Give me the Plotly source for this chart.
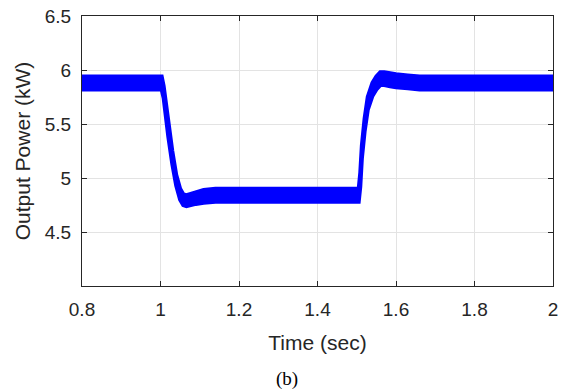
import plotly.graph_objects as go

# Envelope of the rippling output-power trace (kW)
time_s = [0.8, 1.003, 1.008, 1.013, 1.020, 1.030, 1.040, 1.050, 1.058, 1.066, 1.075,
          1.090, 1.110, 1.140, 1.200, 1.505, 1.509, 1.513, 1.520, 1.528, 1.540,
          1.550, 1.560, 1.570, 1.585, 1.600, 1.630, 1.660, 2.0]
power_upper = [5.94, 5.94, 5.85, 5.70, 5.50, 5.25, 5.03, 4.90, 4.85, 4.84, 4.85,
               4.87, 4.89, 4.90, 4.90, 4.90, 5.05, 5.30, 5.55, 5.75, 5.88,
               5.94, 5.98, 5.98, 5.97, 5.96, 5.95, 5.94, 5.94]
power_lower = [5.82, 5.82, 5.74, 5.58, 5.38, 5.13, 4.93, 4.80, 4.75, 4.74, 4.75,
               4.76, 4.77, 4.78, 4.78, 4.78, 4.92, 5.18, 5.43, 5.63, 5.76,
               5.82, 5.86, 5.86, 5.85, 5.84, 5.83, 5.82, 5.82]

x_ticks = [0.8, 1.0, 1.2, 1.4, 1.6, 1.8, 2.0]
x_tick_text = ["0.8", "1", "1.2", "1.4", "1.6", "1.8", "2"]
y_ticks = [4.5, 5.0, 5.5, 6.0, 6.5]
y_tick_text = ["4.5", "5", "5.5", "6", "6.5"]

BLUE = "#0000FF"
AX = "#262626"
GRID = "#e3e3e3"

fig = go.Figure()
fig.add_trace(go.Scatter(x=time_s, y=power_upper, mode="lines",
                         line=dict(color=BLUE, width=4), showlegend=False,
                         hoverinfo="skip"))
fig.add_trace(go.Scatter(x=time_s, y=power_lower, mode="lines",
                         line=dict(color=BLUE, width=4), fill="tonexty",
                         fillcolor=BLUE, showlegend=False, hoverinfo="skip"))

axis_common = dict(showline=True, linecolor=AX, linewidth=1, mirror="ticks",
                   ticks="inside", ticklen=5, tickcolor=AX, tickwidth=1,
                   showgrid=True, gridcolor=GRID, gridwidth=1, zeroline=False,
                   tickfont=dict(family="Liberation Sans, Arial, sans-serif",
                                 size=19, color=AX))

fig.update_xaxes(range=[0.8, 2.0], tickvals=x_ticks, ticktext=x_tick_text,
                 ticklabelstandoff=6,
                 title=dict(text="Time (sec)", standoff=16,
                            font=dict(family="Liberation Sans, Arial, sans-serif",
                                      size=21, color=AX)),
                 **axis_common)
fig.update_yaxes(range=[4.0, 6.5], tickvals=y_ticks, ticktext=y_tick_text,
                 ticklabelstandoff=6,
                 title=dict(text="Output Power (kW)", standoff=8,
                            font=dict(family="Liberation Sans, Arial, sans-serif",
                                      size=21, color=AX)),
                 **axis_common)

fig.add_annotation(text="(b)", xref="paper", yref="paper", x=0.435, y=-0.345,
                   showarrow=False, xanchor="center", yanchor="middle",
                   font=dict(family="Liberation Serif, Times New Roman, serif",
                             size=19, color="#000000"))

fig.update_layout(width=569, height=392,
                  margin=dict(l=82, r=16, t=16, b=106, autoexpand=False),
                  paper_bgcolor="white", plot_bgcolor="white")

fig.write_html("out.html", config={"displayModeBar": False},
               post_script="document.body.style.margin='0';document.body.style.padding='0';")
